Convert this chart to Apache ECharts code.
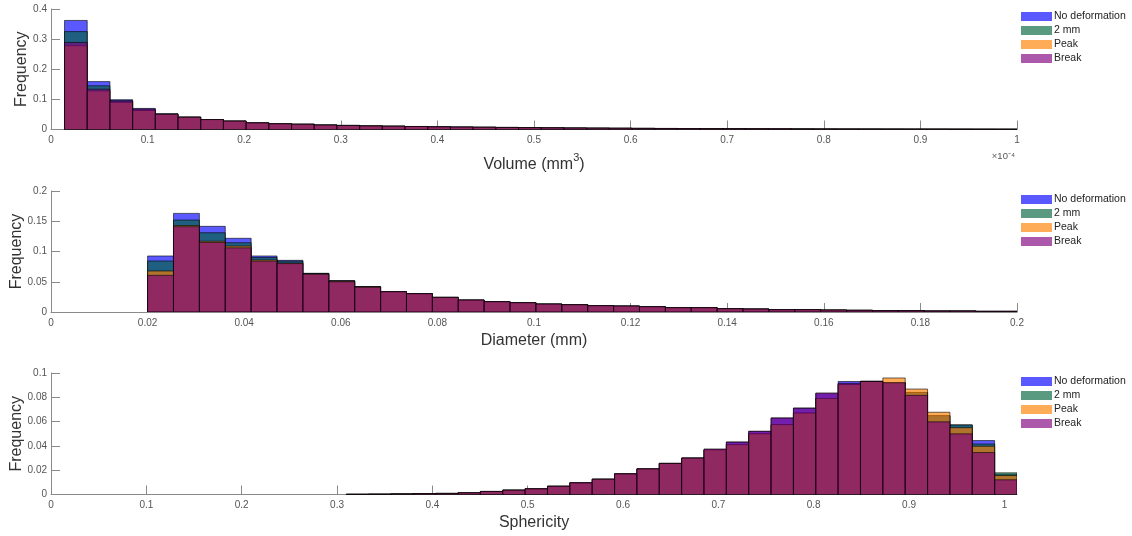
<!DOCTYPE html>
<html>
<head>
<meta charset="utf-8">
<script src="https://cdn.jsdelivr.net/npm/echarts@6/dist/echarts.min.js"></script>
<style>
html,body{margin:0;padding:0;background:#fff;}
#chart{width:1132px;height:536px;}
</style>
</head>
<body>
<div id="chart"></div>
<script>
// ---------- data ----------
const seriesNames = ['No deformation', '2 mm', 'Peak', 'Break'];

// Volume histogram (x in units of 1e-4 mm^3)
const volBinStart = 0.014, volBinWidth = 0.0235;
const volTail = [0.041,0.033,0.028,0.022,0.019,0.0175,0.015,0.0135,0.012,0.011,0.010,0.009,0.0082,0.0075,0.0068,0.0062,0.0056,0.005,0.0045,0.0041,0.0037,0.0034,0.0031,0.0028,0.0026,0.0024,0.0022,0.002,0.0018,0.0017,0.0016,0.0015,0.0014,0.0013,0.0012,0.0011,0.001];
const volNoDef = [0.362,0.159,0.099,0.070,0.052].concat(volTail);
const vol2mm   = [0.325,0.145,0.095,0.065,0.051].concat(volTail);
const volPeak  = [0.278,0.128,0.090,0.063,0.051].concat(volTail);
const volBreak = [0.289,0.134,0.095,0.068,0.051].concat(volTail);
const volTicks = [0,0.1,0.2,0.3,0.4,0.5,0.6,0.7,0.8,0.9,1];

// Diameter histogram (mm)
const diaBinStart = 0.02, diaBinWidth = 0.00536;
const diaTail = [0.0336,0.0303,0.0242,0.0198,0.0171,0.0154,0.0132,0.0121,0.0105,0.0099,0.0088,0.0072,0.0072,0.0055,0.005,0.0039,0.0039,0.0033,0.0028,0.0022,0.0022,0.0017,0.0017,0.0011,0.0011];
const diaNoDef = [0.0926,0.163,0.1416,0.1218,0.0926,0.0854,0.064,0.052,0.042].concat(diaTail);
const dia2mm   = [0.0843,0.152,0.1310,0.1145,0.0900,0.0840,0.0635,0.0515,0.042].concat(diaTail);
const diaPeak  = [0.0678,0.143,0.1170,0.1090,0.0860,0.0810,0.0630,0.0510,0.0415].concat(diaTail);
const diaBreak = [0.0606,0.141,0.1150,0.1060,0.0840,0.0800,0.0625,0.0500,0.041].concat(diaTail);

// Sphericity histogram
const sphBinStart = 0.3097, sphBinWidth = 0.02345;
const sphHead = [0.0002,0.0003,0.0005,0.0008,0.0009,0.0014,0.0025,0.0036,0.0047,0.0068,0.0096,0.0126,0.017,0.0211,0.0256,0.030];
const sphNoDef = sphHead.concat([0.0368,0.0433,0.052,0.063,0.0712,0.083,0.093,0.0934,0.092,0.084,0.0649,0.0573,0.0444,0.0165]);
const sph2mm   = sphHead.concat([0.0368,0.041,0.050,0.0575,0.067,0.079,0.0905,0.093,0.092,0.084,0.0649,0.0573,0.0416,0.0178]);
const sphPeak  = sphHead.concat([0.0368,0.041,0.050,0.0575,0.067,0.079,0.0905,0.093,0.0959,0.0868,0.0677,0.055,0.0397,0.0156]);
const sphBreak = sphHead.concat([0.0375,0.043,0.052,0.063,0.071,0.0836,0.0915,0.093,0.092,0.0816,0.0598,0.0499,0.0345,0.0121]);
const sphTicks = [0,0.1,0.2,0.3,0.4,0.5,0.6,0.7,0.8,0.9,1];

// ---------- styling ----------
const colors = ['rgba(0,0,255,0.65)','rgba(0,100,60,0.65)','rgba(255,128,0,0.65)','rgba(128,0,128,0.65)'];
const FONT = 'Liberation Sans, Arial, Helvetica, sans-serif';
const axisGray = '#8a8a8a';
const labelGray = '#555';

const charts = [
  {start: volBinStart, width: volBinWidth, sets: [volNoDef, vol2mm, volPeak, volBreak]},
  {start: diaBinStart, width: diaBinWidth, sets: [diaNoDef, dia2mm, diaPeak, diaBreak]},
  {start: sphBinStart, width: sphBinWidth, sets: [sphNoDef, sph2mm, sphPeak, sphBreak]}
];

function makeRender(color) {
  return function (params, api) {
    const a = api.coord([api.value(0), api.value(2)]);
    const b = api.coord([api.value(1), 0]);
    return {
      type: 'rect',
      shape: {x: a[0], y: a[1], width: b[0] - a[0], height: b[1] - a[1]},
      style: {fill: color, stroke: 'rgba(0,0,0,0.85)', lineWidth: 0.7}
    };
  };
}

const series = [];
charts.forEach((c, k) => {
  c.sets.forEach((vals, s) => {
    series.push({
      type: 'custom',
      name: seriesNames[s],
      xAxisIndex: k,
      yAxisIndex: k,
      clip: true,
      itemStyle: {color: colors[s]},
      encode: {x: [0, 1], y: 2},
      renderItem: makeRender(colors[s]),
      data: vals.map((v, i) => [c.start + i * c.width, c.start + (i + 1) * c.width, v])
    });
  });
});

const grids = [
  {left: 51, right: 115, top: 9, height: 120.5, containLabel: false, outerBoundsMode: 'none'},
  {left: 51, right: 115, top: 191, height: 121, containLabel: false, outerBoundsMode: 'none'},
  {left: 51, right: 115, top: 373, height: 121.5, containLabel: false, outerBoundsMode: 'none'}
];

function xAxisBase(extra) {
  return Object.assign({
    type: 'value',
    nameLocation: 'middle',
    nameMoveOverlap: false,
    splitLine: {show: false},
    axisLine: {show: true, lineStyle: {color: axisGray, width: 1}},
    axisTick: {show: true, inside: true, length: 9, lineStyle: {color: axisGray}},
    axisLabel: {color: labelGray, fontSize: 10, fontFamily: FONT, margin: 6},
    nameTextStyle: {color: '#333', fontSize: 16, fontFamily: FONT, lineHeight: 16}
  }, extra);
}
function yAxisBase(extra) {
  return Object.assign({
    type: 'value',
    name: 'Frequency',
    nameLocation: 'middle',
    nameMoveOverlap: false,
    min: 0,
    splitLine: {show: false},
    axisLine: {show: true, lineStyle: {color: axisGray, width: 1}},
    axisTick: {show: true, inside: true, length: 9, lineStyle: {color: axisGray}},
    axisLabel: {color: labelGray, fontSize: 10, fontFamily: FONT, margin: 4},
    nameTextStyle: {color: '#333', fontSize: 16, fontFamily: FONT}
  }, extra);
}

const xAxes = [
  xAxisBase({gridIndex: 0, min: 0, max: 1, interval: 0.1,
    name: 'Volume (mm{sup|3})', nameGap: 23,
    nameTextStyle: {color: '#333', fontSize: 16, fontFamily: FONT, lineHeight: 24,
      rich: {sup: {fontSize: 11, lineHeight: 11, verticalAlign: 'top', color: '#333', fontFamily: FONT}}}}),
  xAxisBase({gridIndex: 1, min: 0, max: 0.2, interval: 0.02, name: 'Diameter (mm)', nameGap: 21}),
  xAxisBase({gridIndex: 2, min: 0, max: sphBinStart + sphNoDef.length * sphBinWidth,
    name: 'Sphericity', nameGap: 20,
    axisTick: {show: true, inside: true, length: 9, lineStyle: {color: axisGray}, customValues: sphTicks},
    axisLabel: {color: labelGray, fontSize: 10, fontFamily: FONT, margin: 6, customValues: sphTicks}})
];
const yAxes = [
  yAxisBase({gridIndex: 0, max: 0.4, interval: 0.1, nameGap: 21}),
  yAxisBase({gridIndex: 1, max: 0.2, interval: 0.05, nameGap: 26}),
  yAxisBase({gridIndex: 2, max: 0.1, interval: 0.02, nameGap: 26})
];

const legendTops = [11, 194, 376];
const legends = legendTops.map(t => ({
  orient: 'vertical',
  left: 1021,
  top: t,
  icon: 'rect',
  itemWidth: 31,
  itemHeight: 9,
  itemGap: 3,
  selectedMode: false,
  padding: 0,
  textStyle: {fontSize: 10.5, fontFamily: FONT, color: '#222', lineHeight: 9, padding: [0, 0, 0, -3]},
  data: seriesNames.map((n, i) => ({name: n, itemStyle: {color: colors[i], borderWidth: 0}}))
}));

const option = {
  animation: false,
  backgroundColor: '#fff',
  grid: grids,
  xAxis: xAxes,
  yAxis: yAxes,
  legend: legends,
  series: series,
  graphic: [{
    type: 'text', x: 1015, y: 151,
    style: {text: '×10⁻⁴', fontSize: 9.5, fontFamily: FONT, fill: labelGray, textAlign: 'right'}
  }]
};

const chart = echarts.init(document.getElementById('chart'), null, {renderer: 'canvas'});
chart.setOption(option);
</script>
</body>
</html>
